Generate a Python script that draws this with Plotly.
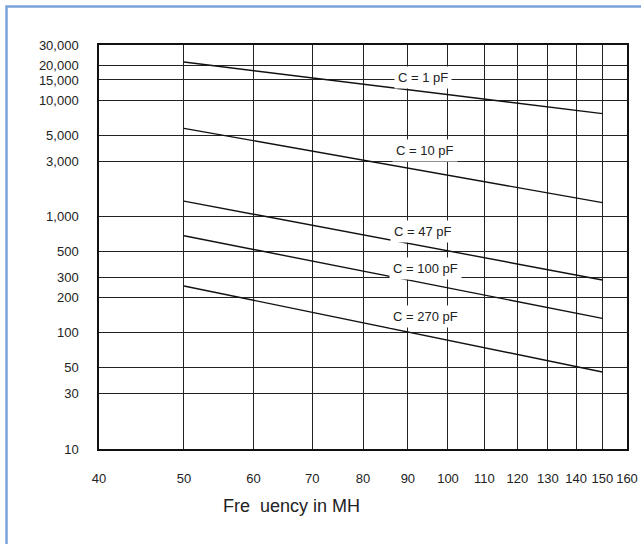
import numpy as np
import plotly.graph_objects as go

# frequency end points (MHz) and read-off values for each capacitance
freq = [50, 150]
c_labels = ['C = 1 pF', 'C = 10 pF', 'C = 47 pF', 'C = 100 pF', 'C = 270 pF']
c1_vals = [21400, 7700]
c10_vals = [5750, 1320]
c47_vals = [1360, 285]
c100_vals = [685, 133]
c270_vals = [253, 46]
series = [c1_vals, c10_vals, c47_vals, c100_vals, c270_vals]

# label positions (frequency, value) for each curve
label_x = [93.6, 94.2, 93.6, 94.2, 94.2]
label_y = [15900, 3690, 752, 361, 137]

x_ticks = [40, 50, 60, 70, 80, 90, 100, 110, 120, 130, 140, 150, 160]
y_ticks = [10, 30, 50, 100, 200, 300, 500, 1000, 3000, 5000, 10000, 15000, 20000, 30000]
y_text = [f'{v:,}' for v in y_ticks]

sans = "Liberation Sans, Arial, sans-serif"

fig = go.Figure()
for vals in series:
    fig.add_trace(go.Scatter(x=freq, y=vals, mode='lines',
                             line=dict(color='#111', width=1.4), showlegend=False, hoverinfo='skip'))

for txt, lx, ly in zip(c_labels, label_x, label_y):
    fig.add_annotation(x=np.log10(lx), y=np.log10(ly), text=txt, showarrow=False,
                       bgcolor='white', borderpad=3, xanchor='center', yanchor='middle',
                       font=dict(family=sans, size=13, color='#222'))

# x axis title sits left of the plot centre in the original
fig.add_annotation(x=0.365, y=-0.141, xref='paper', yref='paper', text='Fre\u00a0\u00a0uency in MH',
                   showarrow=False, xanchor='center', yanchor='middle',
                   font=dict(family=sans, size=18, color='#222'))

# light blue frame around the picture
fig.add_shape(type='rect', xref='paper', yref='paper',
              x0=(6.5 - 99) / 528, x1=(720 - 99) / 528,
              y0=(449 - 620) / 404, y1=(449 - 6.5) / 404,
              line=dict(color='#7ba4da', width=2.5), fillcolor='rgba(0,0,0,0)', layer='below')

fig.update_layout(
    width=641, height=544,
    margin=dict(l=99, r=14, t=45, b=95, autoexpand=False),
    plot_bgcolor='white', paper_bgcolor='white',
    xaxis=dict(type='log', range=[np.log10(40), np.log10(160)], tickvals=x_ticks,
               ticktext=[str(v) for v in x_ticks], showgrid=True, gridcolor='#222', gridwidth=1.3,
               showline=True, linecolor='#111', linewidth=1.5, mirror=True, ticks='',
               ticklabelstandoff=17, zeroline=False, tickangle=0, automargin=False,
               tickfont=dict(family=sans, size=13, color='#222')),
    yaxis=dict(type='log', range=[np.log10(10), np.log10(30000)], tickvals=y_ticks,
               ticktext=y_text, showgrid=True, gridcolor='#222', gridwidth=1.3,
               showline=True, linecolor='#111', linewidth=1.5, mirror=True, ticks='',
               ticklabelstandoff=16, zeroline=False, automargin=False,
               tickfont=dict(family=sans, size=13, color='#222')),
)

fig.write_html("out.html", config={'displayModeBar': False},
               post_script="document.body.style.margin = '0';")
